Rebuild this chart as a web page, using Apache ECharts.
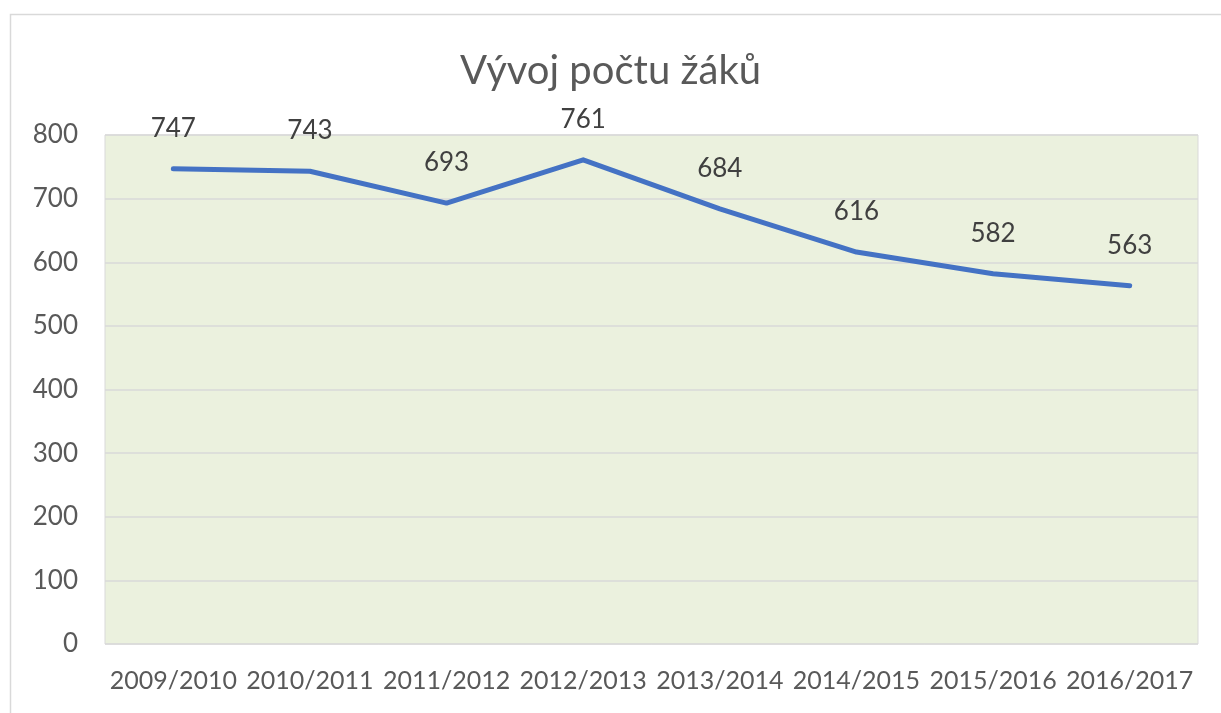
<!DOCTYPE html>
<html><head><meta charset="utf-8">
<script src="https://cdn.jsdelivr.net/npm/echarts@6/dist/echarts.min.js"></script>
<style>html,body{margin:0;padding:0;background:#fff}#c{width:1221px;height:713px}</style>
</head><body><div id="c"></div>
<script>
const categories = ['2009/2010','2010/2011','2011/2012','2012/2013','2013/2014','2014/2015','2015/2016','2016/2017'];
const values = [747, 743, 693, 761, 684, 616, 582, 563];
const chart = echarts.init(document.getElementById('c'));
const FONT = 'Lato';
chart.setOption({
  animation: false,
  backgroundColor: '#fff',
  title: { text: 'Vývoj počtu žáků', left: 'center', top: 46,
    textStyle: { fontFamily: FONT, fontSize: 40, fontWeight: 'normal', color: '#595959' } },
  graphic: [{ type: 'rect', shape: { x: 10.5, y: 14.5, width: 1300, height: 800 },
    style: { fill: 'none', stroke: '#D9D9D9', lineWidth: 1.5 }, silent: true }],
  grid: { left: 105, right: 23, top: 135, bottom: 69, show: true, backgroundColor: '#EBF1DE', borderColor: '#D9D9D9', borderWidth: 1 },
  xAxis: { type: 'category', data: categories, boundaryGap: true,
    axisLine: { show: false }, axisTick: { show: false },
    axisLabel: { margin: 24, fontFamily: FONT, fontSize: 25, color: '#595959', interval: 0 } },
  yAxis: { type: 'value', min: 0, max: 800, interval: 100,
    axisLine: { show: false }, axisTick: { show: false },
    splitLine: { lineStyle: { color: '#D9D9D9', width: 1.5 } },
    axisLabel: { margin: 27, fontFamily: FONT, fontSize: 26, color: '#595959' } },
  series: [{ type: 'line', data: values, symbol: 'circle', symbolSize: 3, showSymbol: true,
    itemStyle: { color: '#4472C4', borderWidth: 0 },
    lineStyle: { color: '#4472C4', width: 5, cap: 'round', join: 'round' },
    label: { show: true, position: 'top', distance: 26, fontFamily: FONT, fontSize: 26, color: '#404040' } }]
});
</script></body></html>
